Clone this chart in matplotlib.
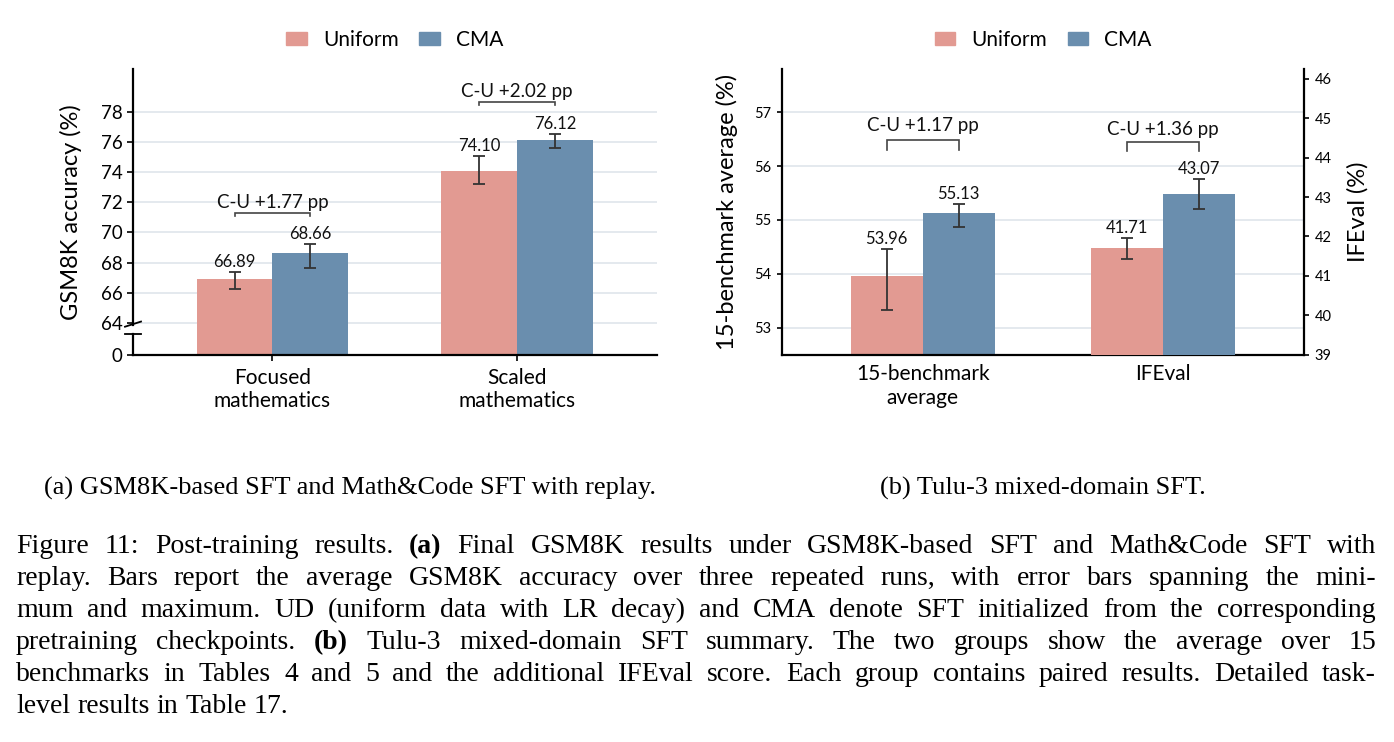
import numpy as np
import matplotlib.pyplot as plt
from matplotlib.lines import Line2D
from matplotlib.patches import Patch

methods = ['Uniform', 'CMA']
colors = ['#E29A92', '#6A8EAE']

# (a) GSM8K-based SFT / Math&Code SFT
a_groups = ['Focused\nmathematics', 'Scaled\nmathematics']
a_uniform = [66.89, 74.10]
a_uniform_lo = [66.26, 73.21]
a_uniform_hi = [67.36, 75.05]
a_cma = [68.66, 76.12]
a_cma_lo = [67.63, 75.57]
a_cma_hi = [69.24, 76.52]
a_gap = ['C-U +1.77 pp', 'C-U +2.02 pp']
a_bracket_y = [71.27, 78.66]
a_ticks = [64, 66, 68, 70, 72, 74, 76, 78]

# (b) Tulu-3 mixed-domain SFT (IFEval on the right axis)
b_groups = ['15-benchmark\naverage', 'IFEval']
b_uniform = [53.96, 41.71]
b_uniform_lo = [53.33, 41.42]
b_uniform_hi = [54.46, 41.97]
b_cma = [55.13, 43.07]
b_cma_lo = [54.87, 42.71]
b_cma_hi = [55.30, 43.45]
b_gap = ['C-U +1.17 pp', 'C-U +1.36 pp']
b_bracket_y = [56.48, 44.41]
b_ticks_left = [53, 54, 55, 56, 57]
b_ticks_right = [39, 40, 41, 42, 43, 44, 45, 46]

sub_a = '(a) GSM8K-based SFT and Math&Code SFT with replay.'
sub_b = '(b) Tulu-3 mixed-domain SFT.'
caption = [
    'Figure 11: Post-training results. (a) Final GSM8K results under GSM8K-based SFT and Math&Code SFT with',
    'replay. Bars report the average GSM8K accuracy over three repeated runs, with error bars spanning the mini-',
    'mum and maximum. UD (uniform data with LR decay) and CMA denote SFT initialized from the corresponding',
    'pretraining checkpoints. (b) Tulu-3 mixed-domain SFT summary. The two groups show the average over 15',
    'benchmarks in Tables 4 and 5 and the additional IFEval score. Each group contains paired results. Detailed task-',
    'level results in Table 17.',
]

plt.rcParams.update({
    'font.family': ['Lato', 'DejaVu Sans'],
    'axes.linewidth': 1.6,
    'xtick.major.width': 1.2,
    'ytick.major.width': 1.2,
})

W, H = 1394, 742
fig = plt.figure(figsize=(W / 100, H / 100), dpi=100)
ERR = '#333333'
GRID = '#DCE3EA'


def px_ax(x0, y0, x1, y1):
    return fig.add_axes([x0 / W, 1 - y1 / H, (x1 - x0) / W, (y1 - y0) / H])


def bracket(ax, x0, x1, y, leg_pt, text, off_pt):
    p = ax.transData.transform((0, y))
    y_leg = ax.transData.inverted().transform((0, p[1] - leg_pt * fig.dpi / 72))[1]
    ax.plot([x0, x0, x1, x1], [y_leg, y, y, y_leg], color='#444444', lw=1.2,
            solid_joinstyle='miter', zorder=4, clip_on=False)
    ax.annotate(text, ((x0 + x1) / 2, y), xytext=(0, off_pt), textcoords='offset points',
                ha='center', va='bottom', fontsize=13.5, color='#111111')


def bar_pair(ax, x, val, lo, hi, color, w):
    ax.bar(x, val - ax.get_ylim()[0], w, bottom=ax.get_ylim()[0], color=color, zorder=2)
    ax.errorbar(x, val, yerr=[[val - lo], [hi - val]], fmt='none', ecolor=ERR,
                elinewidth=1.3, capsize=4.2, capthick=1.3, zorder=3)
    ax.annotate(f'{val:.2f}', (x, hi), xytext=(0, 1.5), textcoords='offset points',
                ha='center', va='bottom', fontsize=12, color='#111111')


# ---------- panel (a) ----------
axa = px_ax(133, 69, 656.7, 355)
bot_a = 64 - 32 / 15.1
axa.set_ylim(bot_a, 80.83)
axa.set_xlim(-0.57, 1.57)
wa = 0.31
xa = np.arange(len(a_groups))
for t in a_ticks:
    axa.axhline(t, color=GRID, lw=1.1, zorder=0)
for i in range(len(a_groups)):
    bar_pair(axa, xa[i] - wa / 2, a_uniform[i], a_uniform_lo[i], a_uniform_hi[i], colors[0], wa)
    bar_pair(axa, xa[i] + wa / 2, a_cma[i], a_cma_lo[i], a_cma_hi[i], colors[1], wa)
    bracket(axa, xa[i] - wa / 2, xa[i] + wa / 2, a_bracket_y[i], 2.2, a_gap[i], 1.5)
axa.set_yticks([bot_a] + a_ticks)
axa.set_yticklabels(['0'] + [str(t) for t in a_ticks])
axa.set_xticks(xa)
axa.set_xticklabels(a_groups, fontsize=15)
axa.tick_params(axis='y', labelsize=13.5, length=4.5, pad=3)
axa.tick_params(axis='x', length=4, pad=5)
for s in ['top', 'right', 'left']:
    axa.spines[s].set_visible(False)
# left spine drawn by hand, with a break between 64 and 0
gb, gt = (355 - 334) / 286, (355 - 325) / 286
axa.add_line(Line2D([0, 0], [0, gb], transform=axa.transAxes, color='black', lw=1.6, clip_on=False))
axa.add_line(Line2D([0, 0], [gt, 1], transform=axa.transAxes, color='black', lw=1.6, clip_on=False))
dx = 8 / 523.7
axa.add_line(Line2D([-dx, dx], [gb, gb], transform=axa.transAxes, color='black', lw=1.3, clip_on=False))
axa.add_line(Line2D([-dx, dx], [gt - 0.006, gt + 0.012], transform=axa.transAxes, color='black', lw=1.3, clip_on=False))
axa.set_ylabel('GSM8K accuracy (%)', fontsize=17)
axa.yaxis.set_label_coords(-0.097, 0.5)

handles = [Patch(color=c, label=m) for c, m in zip(colors, methods)]
axa.legend(handles=handles, loc='center', bbox_to_anchor=(0.5, 1.101), ncol=2, frameon=False,
           fontsize=15, handlelength=1.0, handleheight=0.6, handletextpad=0.75, columnspacing=1.0)

# ---------- panel (b) ----------
axb = px_ax(781.7, 69, 1304.3, 354.7)
axb.set_xlim(-0.586, 1.586)
axb.set_ylim(52.5, 57.8)
axr = axb.twinx()
axr.set_ylim(39, 46.25)
wb = 0.30
xb = np.arange(len(b_groups))
for t in b_ticks_left:
    axb.axhline(t, color=GRID, lw=1.1, zorder=0)
targets = [axb, axr]
offs = [4.5, 2.5]
for i in range(len(b_groups)):
    ax = targets[i]
    bar_pair(ax, xb[i] - wb / 2, b_uniform[i], b_uniform_lo[i], b_uniform_hi[i], colors[0], wb)
    bar_pair(ax, xb[i] + wb / 2, b_cma[i], b_cma_lo[i], b_cma_hi[i], colors[1], wb)
    bracket(ax, xb[i] - wb / 2, xb[i] + wb / 2, b_bracket_y[i], 7, b_gap[i], offs[i])
axb.set_yticks(b_ticks_left)
axr.set_yticks(b_ticks_right)
axb.set_xticks(xb)
axb.set_xticklabels(b_groups, fontsize=15)
axb.tick_params(axis='x', length=0, pad=7)
axb.tick_params(axis='y', labelsize=10.5, length=3.5, pad=4)
axr.tick_params(axis='y', labelsize=10.5, length=3.5, pad=4)
for s in ['top', 'right']:
    axb.spines[s].set_visible(False)
for s in ['top', 'left', 'bottom']:
    axr.spines[s].set_visible(False)
axb.set_ylabel('15-benchmark average (%)', fontsize=17)
axb.yaxis.set_label_coords(-0.0836, 0.5)
axr.set_ylabel('IFEval (%)', fontsize=17)
axr.yaxis.set_label_coords(1.082, 0.5)
axb.legend(handles=handles, loc='center', bbox_to_anchor=(0.5, 1.101), ncol=2, frameon=False,
           fontsize=15, handlelength=1.0, handleheight=0.6, handletextpad=0.75, columnspacing=1.0)

# ---------- captions ----------
serif = ['Liberation Serif', 'DejaVu Serif']
fig.text(350 / W, 1 - 495 / H, sub_a, ha='center', va='baseline', family=serif, fontsize=19)
fig.text(1043 / W, 1 - 495 / H, sub_b, ha='center', va='baseline', family=serif, fontsize=19)

renderer = fig.canvas.get_renderer()
x_left, x_right = 16, 1376
base0, step = 553.3, 32.0
cap_fs = 20
for k, line in enumerate(caption):
    words = line.split()
    arts, widths = [], []
    for w in words:
        bold = w in ('(a)', '(b)')
        t = fig.text(0, 1 - (base0 + k * step) / H, w, ha='left', va='baseline', family=serif,
                     fontsize=cap_fs, fontweight='bold' if bold else 'normal')
        arts.append(t)
        widths.append(t.get_window_extent(renderer).width)
    if k < len(caption) - 1:
        gap = (x_right - x_left - sum(widths)) / (len(words) - 1)
    else:
        gap = 0.25 * cap_fs * 100 / 72
    x = x_left
    for t, w in zip(arts, widths):
        t.set_x(x / W)
        x += w + gap

fig.savefig('out.png', dpi=100)
